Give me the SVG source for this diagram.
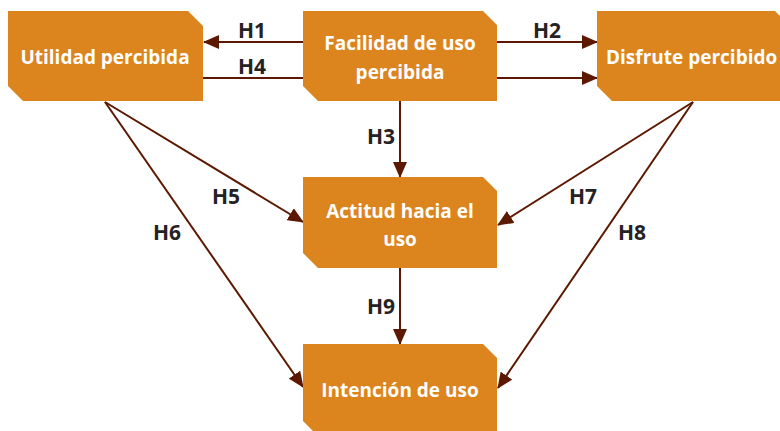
<svg xmlns="http://www.w3.org/2000/svg" width="780" height="431" viewBox="0 0 780 431">
<defs>
<marker id="ah" markerUnits="userSpaceOnUse" markerWidth="16" markerHeight="14" viewBox="0 0 16 14" refX="15" refY="7" orient="auto">
<path d="M0,0 L16,7 L0,14 Z" fill="#5c1800"/>
</marker>
<style>
.box{fill:#dc841d}
.bt{font-family:"Open Sans","Liberation Sans",sans-serif;font-weight:700;font-size:19px;fill:#ffffff;text-anchor:middle}
.lbl{font-family:"Open Sans","Liberation Sans",sans-serif;font-weight:700;font-size:21px;fill:#262223;text-anchor:middle}
.c{stroke:#5c1800;stroke-width:2;fill:none}
</style>
</defs>
<g id="connectors">
<line class="c" x1="303" y1="42" x2="204" y2="42" marker-end="url(#ah)"/>
<line class="c" x1="203" y1="78" x2="303" y2="78"/>
<line class="c" x1="497" y1="42" x2="597" y2="42" marker-end="url(#ah)"/>
<line class="c" x1="497" y1="78" x2="597" y2="78" marker-end="url(#ah)"/>
<line class="c" x1="400" y1="101" x2="400" y2="177" marker-end="url(#ah)"/>
<line class="c" x1="400" y1="268" x2="400" y2="344" marker-end="url(#ah)"/>
<line class="c" x1="105" y1="102" x2="303" y2="222" marker-end="url(#ah)"/>
<line class="c" x1="105" y1="102" x2="303" y2="387" marker-end="url(#ah)"/>
<line class="c" x1="693" y1="102" x2="498" y2="225" marker-end="url(#ah)"/>
<line class="c" x1="693" y1="102" x2="498" y2="388" marker-end="url(#ah)"/>
<text class="lbl" x="252" y="38">H1</text>
<text class="lbl" x="252" y="74">H4</text>
<text class="lbl" x="547" y="38">H2</text>
<text class="lbl" x="381" y="144">H3</text>
<text class="lbl" x="381" y="314">H9</text>
<text class="lbl" x="226" y="204">H5</text>
<text class="lbl" x="167" y="240">H6</text>
<text class="lbl" x="583" y="204">H7</text>
<text class="lbl" x="632" y="240">H8</text>
</g>
<g id="utilidad">
<path class="box" d="M8,11 H188 L203,26 V101 H23 L8,86 Z"/>
<text class="bt" x="105" y="64">Utilidad percibida</text>
</g>
<g id="facilidad">
<path class="box" d="M303,11 H483 L497,25 V101 H318 L303,86 Z"/>
<text class="bt" x="400" y="50">Facilidad de uso</text>
<text class="bt" x="400" y="79">percibida</text>
</g>
<g id="disfrute">
<path class="box" d="M597,11 H775 L790,26 V101 H612 L597,86 Z"/>
<text class="bt" x="606" y="64" style="text-anchor:start">Disfrute percibido</text>
</g>
<g id="actitud">
<path class="box" d="M303,177 H483 L497,191 V268 H318 L303,253 Z"/>
<text class="bt" x="400" y="218">Actitud hacia el</text>
<text class="bt" x="400" y="246">uso</text>
</g>
<g id="intencion">
<path class="box" d="M303,344 H483 L497,358 V436 H318 L303,421 Z"/>
<text class="bt" x="400" y="397">Intención de uso</text>
</g>
</svg>
